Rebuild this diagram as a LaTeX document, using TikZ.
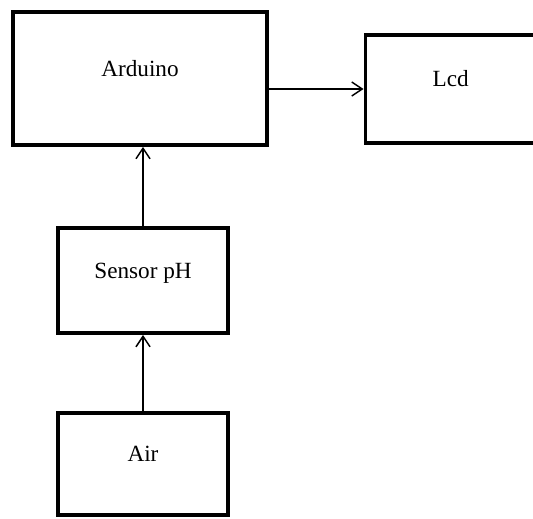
\documentclass[tikz,border=0pt]{standalone}
\usepackage{fontspec}
\setmainfont{Liberation Serif}
\usepackage{tikz}
\usetikzlibrary{calc,positioning}
\usetikzlibrary{arrows.meta}
\tikzset{
  % node styles (blocks of the diagram)
  % text sits a bit above the middle of the block
  block/.style={rectangle,draw=black,line width=2.2pt,inner sep=0pt,
    font=\fontsize{13.2}{15}\selectfont,text height=9pt,text depth=11.3pt},
  % connector style
  signal/.style={line width=0.85pt,-{Straight Barb[length=6pt,width=8pt,line width=0.85pt]}},
}
\begin{document}
\begin{tikzpicture}[x=0.02cm,y=-0.02cm]
  \useasboundingbox (0,0) rectangle (533,518);
  \node[block,minimum width=5.08cm,minimum height=2.66cm] (arduino) at (140,78.5) {Arduino};
  \node[block,minimum width=3.41cm,minimum height=2.16cm] (lcd) at (450.75,89) {Lcd};
  \node[block,minimum width=3.4cm,minimum height=2.1cm] (sensor) at (143,280.5) {Sensor pH};
  \node[block,minimum width=3.4cm,minimum height=2.04cm] (air) at (143,464) {Air};
  \draw[signal] (lcd.west -| arduino.east) -- (lcd.west);
  \draw[signal] (sensor.north) -- (sensor.north |- arduino.south);
  \draw[signal] (air.north) -- (sensor.south);
\end{tikzpicture}
\end{document}
